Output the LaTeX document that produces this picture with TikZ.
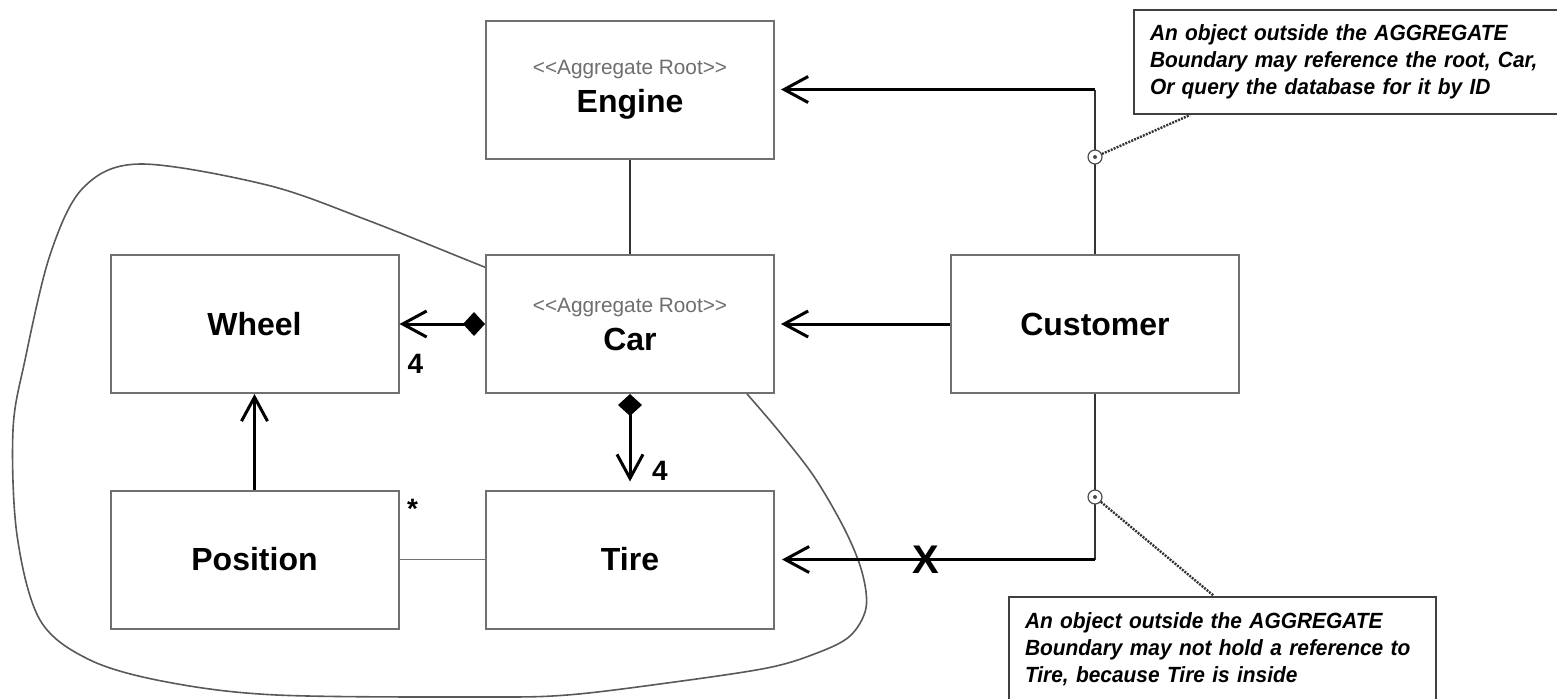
\documentclass[tikz,border=0pt]{standalone}
\usepackage{fontspec}
\setmainfont{Liberation Sans}
\newfontfamily\notefont[FakeStretch=0.95]{Liberation Sans}
\usetikzlibrary{arrows.meta,calc}
\definecolor{boxgray}{RGB}{112,112,112}
\definecolor{stereogray}{RGB}{110,110,110}
\tikzstyle{classbox}=[draw=boxgray, line width=1pt, fill=white, minimum width=144pt, minimum height=69pt, inner sep=0pt, align=center, font=\fontsize{16}{19}\selectfont\bfseries]
\tikzstyle{note}=[draw=black!75, line width=1pt, fill=white, anchor=north west, inner xsep=8pt, inner ysep=0pt, minimum height=52pt, align=left, font=\notefont\fontsize{11}{13.5}\selectfont\bfseries\itshape]
\tikzstyle{assoc}=[line width=1.5pt, -{Straight Barb[length=12pt,width=13pt]}]
\tikzstyle{comp}=[line width=1.5pt, {Diamond[length=11pt,width=12pt]}-{Straight Barb[length=12pt,width=13pt]}]
\tikzstyle{thinline}=[line width=0.8pt, draw=black!80]
\tikzstyle{boundary}=[line width=0.8pt, draw=black!65]
\tikzstyle{mult}=[font=\fontsize{14}{16}\selectfont\bfseries, inner sep=0pt]
\tikzstyle{xmark}=[font=\fontsize{20}{22}\selectfont\bfseries, inner sep=0pt]
\tikzstyle{leader}=[line width=1.2pt, draw=black!80, dash pattern=on 1pt off 0.6pt]
\tikzstyle{pin}=[circle, draw=black!70, line width=0.6pt, fill=white, minimum size=7pt, inner sep=0pt, path picture={\fill[black!70] (path picture bounding box.center) circle (1pt);}]
\newcommand{\stereotype}[1]{{\fontsize{10.4}{12}\selectfont\mdseries\color{stereogray}<\kern0pt<#1>\kern0pt>}}

\begin{document}
\begin{tikzpicture}[x=0.5pt, y=-0.5pt]
  \useasboundingbox (0,0) rectangle (1557,698);

  % aggregate boundary
  \draw[boundary] plot[smooth cycle, tension=0.55] coordinates {(487,268) (367,220) (267,185) (140,164) (83,188) (50,255) (25,360) (13,430) (17,535) (40,620) (90,660) (167,682) (277,695) (483,697) (567,695) (667,683) (767,668) (817,653) (850,636) (866,608) (862,572) (845,530) (815,478) (782,435) (748,395) (700,340) (570,300)};

  % classes
  \node[classbox] (engine) at (630,89.5) {\stereotype{Aggregate Root}\\Engine};
  \node[classbox] (car) at (630,324) {\stereotype{Aggregate Root}\\Car};
  \node[classbox] (wheel) at (254.5,324) {Wheel};
  \node[classbox] (position) at (254.5,559.5) {Position};
  \node[classbox] (tire) at (630,559.5) {Tire};
  \node[classbox] (customer) at (1095,324) {Customer};

  % inside the aggregate
  \draw[thinline] (engine) -- (car);
  \draw[comp] (car.west) -- (car.west -| wheel.east);
  \draw[comp, shorten >=4pt] (car.south) -- (tire.north);
  \draw[assoc] (position.north) -- (wheel.south);
  \draw[thinline, draw=boxgray] (position.east) -- (tire.west);

  % multiplicities
  \node[mult] (wheelfour) at ($(wheel.east)+(16,40)$) {4};
  \node[mult] (tirefour) at ($(tire.north)+(30,-19)$) {4};
  \node[mult] (posstar) at ($(position.north east)+(13,19)$) {*};

  % references from outside
  \coordinate (topbend) at (customer.north |- engine.east);
  \coordinate (botbend) at (customer.south |- tire.east);
  \draw[thinline] (customer.north) -- (topbend);
  \draw[assoc, shorten >=3pt] (topbend) -- (engine.east);
  \draw[assoc, shorten >=3pt] (customer.west) -- (customer.west -| car.east);
  \draw[thinline] (customer.south) -- (botbend);
  \draw[assoc, shorten >=3.5pt] (botbend) -- node[xmark, pos=0.53] (xcross) {X} (tire.east);

  % notes
  \node[pin] (pin1) at (1095,157) {};
  \node[pin] (pin2) at (1095,497) {};
  \node[note, minimum width=220pt, text width=204pt] (note1) at (1133,9)
    {An object outside the AGGREGATE\\Boundary may reference the root, Car,\\Or query the database for it by ID};
  \node[note, minimum width=213.5pt, text width=197.5pt] (note2) at (1008,596)
    {An object outside the AGGREGATE\\Boundary may not hold a reference to\\Tire, because Tire is inside};
  \coordinate (note1tip) at ($(note1.south west)+(57,0)$);
  \coordinate (note2tip) at ($(note2.north west)+(206,0)$);
  \draw[leader] (pin1) -- (note1tip);
  \draw[leader] (pin2) -- (note2tip);
\end{tikzpicture}
\end{document}
